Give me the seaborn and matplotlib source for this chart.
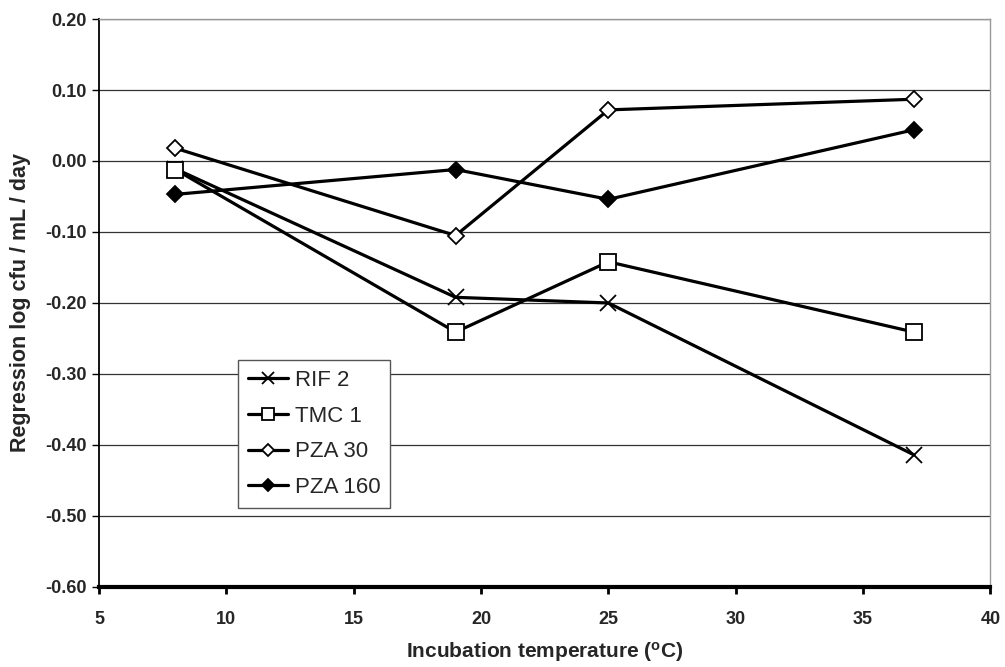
import numpy as np
import pandas as pd
import matplotlib
matplotlib.use('Agg')
import matplotlib.pyplot as plt
import seaborn as sns

temps = [8, 19, 25, 37]
rif_2 = [-0.011, -0.192, -0.200, -0.414]
tmc_1 = [-0.012, -0.241, -0.142, -0.241]
pza_30 = [0.018, -0.105, 0.072, 0.087]
pza_160 = [-0.047, -0.012, -0.054, 0.044]
series_names = ['RIF 2', 'TMC 1', 'PZA 30', 'PZA 160']

x_ticks = [5, 10, 15, 20, 25, 30, 35, 40]
y_ticks = [-0.60, -0.50, -0.40, -0.30, -0.20, -0.10, 0.00, 0.10, 0.20]

sns.set_style('white')
plt.rcParams['font.family'] = ['Liberation Sans', 'DejaVu Sans']
plt.rcParams['mathtext.fontset'] = 'custom'
plt.rcParams['mathtext.rm'] = 'Liberation Sans:bold'
plt.rcParams['mathtext.it'] = 'Liberation Sans:bold'

fig = plt.figure(figsize=(10.05, 6.67), dpi=100)
ax = fig.add_axes([0.0985, 0.12, 0.887, 0.8515])

styles = {
    'RIF 2': dict(marker='x', markersize=12, markeredgewidth=1.3, markerfacecolor='none'),
    'TMC 1': dict(marker='s', markersize=11, markeredgewidth=1.3, markerfacecolor='white'),
    'PZA 30': dict(marker='D', markersize=8, markeredgewidth=1.3, markerfacecolor='white'),
    'PZA 160': dict(marker='D', markersize=8, markeredgewidth=1.3, markerfacecolor='black'),
}
values = [rif_2, tmc_1, pza_30, pza_160]

for name, vals in zip(series_names, values):
    sns.lineplot(x=temps, y=vals, ax=ax, color='black', linewidth=2.3,
                 markeredgecolor='black', label=name, **styles[name])

ax.set_xlim(5, 40)
ax.set_ylim(-0.60, 0.20)
ax.set_xticks(x_ticks)
ax.set_yticks(y_ticks)
ax.set_xticklabels([str(t) for t in x_ticks], fontsize=13, fontweight='bold')
ax.set_yticklabels(['%.2f' % t for t in y_ticks], fontsize=13, fontweight='bold')
ax.yaxis.grid(True, color='#333333', linewidth=0.9)
ax.xaxis.grid(False)
ax.tick_params(axis='y', direction='out', length=5, width=1, color='black', pad=4, left=True)
ax.tick_params(axis='x', direction='out', length=5, width=2, color='black', pad=12, bottom=True)

ax.spines['left'].set_color('black')
ax.spines['left'].set_linewidth(1.3)
ax.spines['bottom'].set_color('black')
ax.spines['bottom'].set_linewidth(3)
ax.spines['top'].set_color('#999999')
ax.spines['top'].set_linewidth(1)
ax.spines['right'].set_color('#999999')
ax.spines['right'].set_linewidth(1)

ax.set_xlabel(r'Incubation temperature ($^{\rm o}$C)', fontsize=15, fontweight='bold', labelpad=9)
ax.set_ylabel('Regression log cfu / mL / day', fontsize=15.5, fontweight='bold', labelpad=10)

leg = ax.legend(loc='lower left', bbox_to_anchor=(0.156, 0.139), fontsize=16,
                frameon=True, fancybox=False, edgecolor='#555555', framealpha=1,
                handlelength=1.8, handletextpad=0.3, borderpad=0.45, labelspacing=0.66,
                borderaxespad=0)
leg.get_frame().set_linewidth(1)
for h in leg.legend_handles:
    h.set_markersize(h.get_markersize() * 0.75)

plt.savefig('out.png', dpi=100)
